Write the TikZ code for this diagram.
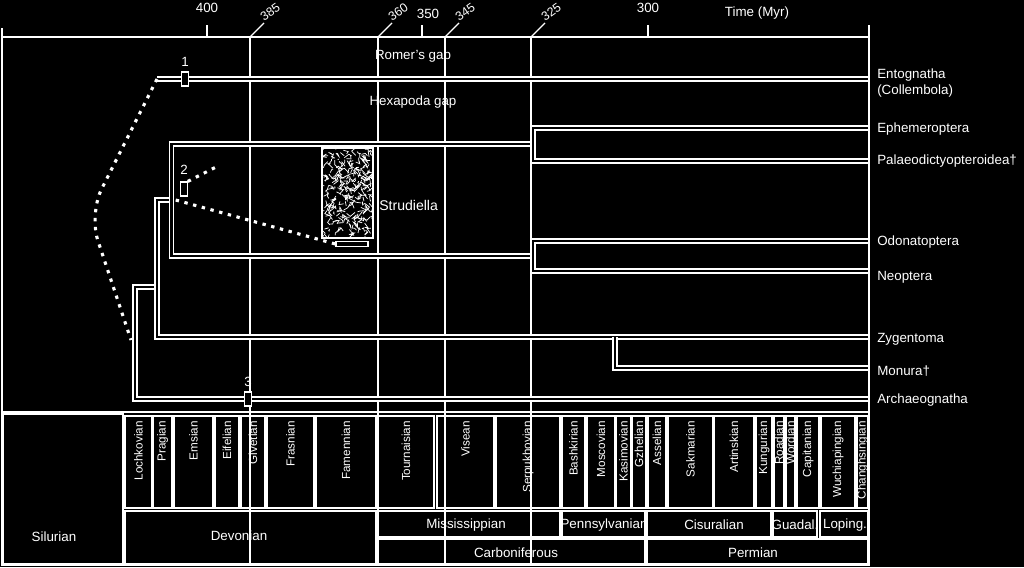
\documentclass[tikz,border=0pt]{standalone}
\usepackage{fontspec}
\setmainfont{Liberation Sans}
\usepackage{tikz}
\usetikzlibrary{positioning}
\tikzstyle{grid} = [draw=white, line width=0.8pt]
\tikzstyle{branch} = [draw=white, line width=0.9pt, double=black, double distance=2pt]
\tikzstyle{dots} = [draw=white, line width=2.2pt, dash pattern=on 2.4pt off 4pt]
\tikzstyle{taxon} = [anchor=west, align=left, text=white, inner sep=0pt, font=\fontsize{9.5}{11.3}\selectfont]
\tikzstyle{plain} = [text=white, inner sep=0pt, font=\fontsize{9.5}{11}\selectfont]
\tikzstyle{stagelabel} = [rotate=90, anchor=east, text=white, inner sep=0pt, font=\fontsize{8.3}{10}\selectfont]
\tikzstyle{slant} = [rotate=35, anchor=south west, text=white, inner sep=0.5pt, font=\fontsize{8.8}{10}\selectfont]
\tikzstyle{marker} = [rectangle, draw=white, fill=black, line width=0.8pt, minimum width=4.6pt, minimum height=10pt, inner sep=0pt]

\begin{document}
\begin{tikzpicture}[x=0.025cm, y=-0.025cm]
\useasboundingbox (0,0) rectangle (1024,567);
\fill[black] (0,0) rectangle (1024,567);

% frame and time axis
\draw[grid] (2,28) -- (2,565) -- (869,565) -- (869,25);
\draw[grid] (2,37) -- (869,37);
\draw[grid] (2,412) -- (869,412);
\foreach \x in {207,422,648} \draw[grid] (\x,37) -- (\x,25);
\node (t400) [plain] at (207,8) {400};
\node (t350) [plain] at (428,14) {350};
\node (t300) [plain] at (648,8) {300};
\node (taxis) [plain] at (757,13) {Time (Myr)};
\foreach \x/\t in {250/385, 378/360, 445/345, 531/325} {
  \draw[grid] (\x,37) -- ++(14,-14) coordinate (s\t);
  \node (l\t) [slant] at (s\t) {\t};
}
\foreach \x in {250,378,445,531} \draw[grid] (\x,37) -- (\x,565);

\node (romer) [plain] at (413,56) {Romer's gap};
\node (hexgap) [plain] at (413,102) {Hexapoda gap};

% stratigraphic table
\draw[grid] (3,414) rectangle (123,564);
\node (silurian) [plain] at (54,537) {Silurian};
\foreach \xa/\xb/\name in {125/152/Lochkovian, 153/172/Pragian, 174/213/Emsian,
    215/239/Eifelian, 241/265/Givetian, 267/314/Frasnian, 316/376/Famennian,
    378/434/Tournaisian, 437/494/Visean, 496/560/Serpukhovian, 562/585/Bashkirian,
    587/615/Moscovian, 616/631/Kasimovian, 632/646/Gzhelian, 648/666/Asselian,
    668/713/Sakmarian, 714/754/Artinskian, 756/772/Kungurian, 774/784/Roadian,
    786/795/Wordian, 797/819/Capitanian, 821/855/Wuchiapingian, 857/868/Changhsingian} {
  \draw[grid] (\xa,416) rectangle (\xb,508);
  \node (st-\name) [stagelabel] at ({(\xa+\xb)/2},421) {\name};
}
\foreach \xa/\ya/\xb/\yb/\lx/\ly/\name in {125/511/376/564/239/536/Devonian,
    378/511/560/537/466/525/Mississippian, 562/511/645/537/604/525/Pennsylvanian,
    647/511/771/537/714/525/Cisuralian, 773/511/817/537/795/525/Guadal.,
    820/511/868/537/845/525/Loping., 378/539/645/564/516/553/Carboniferous,
    647/539/868/564/753/553/Permian} {
  \draw[grid] (\xa,\ya) rectangle (\xb,\yb);
  \node (pe-\name) [plain] at (\lx,\ly) {\name};
}

% fossil picture
\draw[grid] (322,148) rectangle (373,238);
\begin{scope}
  \clip (323,149) rectangle (372,237);
  \pgfmathsetseed{42}
  \foreach \i in {1,...,230} {
    \pgfmathsetmacro{\fx}{323+49*rnd}
    \pgfmathsetmacro{\fy}{149+88*rnd}
    \draw[white, line width=0.5pt] (\fx,\fy) -- ++(5*rand,5*rand) -- ++(5*rand,5*rand);
  }
\end{scope}
\node (bar) [rectangle, draw=white, line width=0.8pt, minimum width=0.8cm, minimum height=0.12cm, inner sep=0pt] at (352,244) {};
\node (strud) [plain, anchor=west, font=\fontsize{10}{12}\selectfont] at (379,205) {Strudiella};

% tree
\coordinate (tEnto) at (868,79);
\coordinate (tEph) at (868,128);
\coordinate (tPal) at (868,161);
\coordinate (tOdo) at (868,241);
\coordinate (tNeo) at (868,271);
\coordinate (tZyg) at (868,337);
\coordinate (tMon) at (868,368);
\coordinate (tArc) at (868,399);
\coordinate (nEnto) at (157,79);
\coordinate (nRoot) at (135,287);
\coordinate (nDicon) at (157,200);
\coordinate (nPter) at (171.5,200);
\coordinate (nPal) at (533,144);
\coordinate (nMet) at (533,256);
\coordinate (nMon) at (615,337);

\draw[branch] (tArc) -| (nRoot) -- (157,287);
\draw[branch] (tZyg) -| (nDicon) -- (nPter);
\draw[branch] (nMon) |- (tMon);
\draw[branch] (nPal) -| (nPter |- nMet) -- (nMet);
\draw[branch] (tEph) -| (tPal -| nPal) -- (tPal);
\draw[branch] (tOdo) -| (tNeo -| nMet) -- (tNeo);
\draw[branch] (nEnto) -- (tEnto);

% dotted links
\coordinate (bend) at (89,214);
\coordinate (dotEnd) at (131,340);
\draw[dots, rounded corners=20] (nEnto) -- (bend) -- (dotEnd);
\node (m1) [marker] at (185,79) {};
\node (m2) [marker] at (184,189) {};
\node (m3) [marker] at (248,399) {};
\coordinate (dot2) at (218,166);
\draw[dots] (m2.north east) -- (dot2);
\draw[dots] ([xshift=3pt]nPter) -- (bar.west);
\node (n1) [plain, above=3pt of m1] {1};
\node (n2) [plain, above=5pt of m2] {2};
\node (n3) [plain, above=3pt of m3] {3};

% taxa
\node (ento) [taxon] at (877,83) {Entognatha\\(Collembola)};
\node (eph) [taxon] at (877,129) {Ephemeroptera};
\node (pal) [taxon] at (877,161) {Palaeodictyopteroidea†};
\node (odo) [taxon] at (877,242) {Odonatoptera};
\node (neo) [taxon] at (877,277) {Neoptera};
\node (zyg) [taxon] at (877,339) {Zygentoma};
\node (mon) [taxon] at (877,371) {Monura†};
\node (arc) [taxon] at (877,400) {Archaeognatha};
\end{tikzpicture}
\end{document}
